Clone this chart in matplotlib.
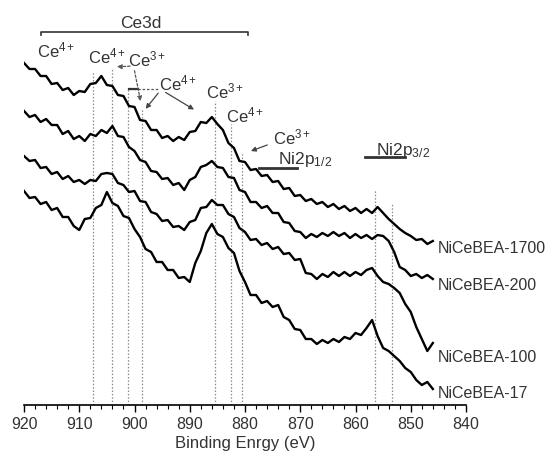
import matplotlib
matplotlib.use('Agg')
import matplotlib.pyplot as plt

plt.rcParams['font.family'] = ['Liberation Sans', 'DejaVu Sans']
plt.rcParams['mathtext.fontset'] = 'custom'
plt.rcParams['mathtext.rm'] = 'Liberation Sans'
plt.rcParams['mathtext.it'] = 'Liberation Sans:italic'

# binding energy grid (eV), 920 -> 846
binding_energy = list(range(920, 845, -1))

# intensities (a.u., offset stacked)
nicebea_1700 = [343, 337, 337, 330, 330, 322, 323, 316, 318, 311,
                315, 314, 322, 323, 330, 321, 320, 311, 310, 300,
                299, 286, 285, 276, 276, 268, 270, 265, 269, 266,
                274, 275, 284, 283, 289, 282, 276, 263, 258, 245,
                244, 236, 237, 230, 231, 224, 225, 217, 218, 210,
                211, 205, 207, 202, 204, 199, 202, 197, 200, 195,
                198, 193, 197, 193, 199, 193, 187, 182, 177, 173,
                170, 166, 167, 162, 165]
nicebea_200 = [295, 289, 291, 284, 287, 281, 281, 272, 275, 267,
               270, 265, 272, 270, 276, 273, 280, 270, 269, 259,
               255, 246, 244, 235, 234, 227, 228, 221, 223, 216,
               226, 229, 239, 241, 245, 239, 238, 229, 228, 216,
               214, 204, 204, 198, 200, 193, 193, 184, 183, 175,
               174, 168, 172, 169, 173, 170, 174, 170, 173, 168,
               172, 168, 171, 167, 171, 170, 165, 154, 139, 136,
               130, 132, 128, 131, 127]
nicebea_100 = [250, 245, 246, 238, 239, 232, 234, 227, 230, 224,
               226, 222, 226, 225, 232, 233, 232, 223, 221, 214,
               215, 205, 204, 194, 192, 185, 186, 179, 180, 176,
               184, 186, 198, 199, 206, 201, 201, 192, 189, 178,
               174, 166, 167, 161, 163, 157, 159, 152, 153, 146,
               147, 133, 132, 127, 132, 129, 134, 130, 134, 130,
               134, 131, 136, 138, 130, 124, 122, 118, 113, 102,
               94, 79, 67, 55, 63]
nicebea_17 = [215, 208, 209, 202, 204, 196, 198, 189, 189, 180,
              176, 187, 188, 198, 201, 214, 203, 200, 190, 188,
              177, 169, 157, 154, 144, 144, 136, 136, 128, 129,
              124, 143, 155, 173, 182, 172, 169, 158, 153, 135,
              124, 111, 111, 103, 105, 99, 101, 89, 86, 77,
              76, 67, 67, 62, 66, 63, 67, 64, 69, 67,
              73, 71, 78, 86, 70, 58, 55, 50, 45, 38,
              34, 26, 21, 24, 17]

series = [nicebea_1700, nicebea_200, nicebea_100, nicebea_17]
sample_names = ['NiCeBEA-1700', 'NiCeBEA-200', 'NiCeBEA-100', 'NiCeBEA-17']
name_y = [154, 117, 45, 9]

# reference peak positions (eV) and top of their dotted guide lines
peak_positions = [907.5, 904.1, 901.2, 898.6, 885.4, 882.5, 880.5, 856.5, 853.4]
peak_tops = [335, 337, 317, 297, 305, 282, 252, 217, 202]

fig = plt.figure(figsize=(5.55, 4.56), dpi=100)
ax = fig.add_axes([24 / 555, 50 / 456, 442 / 555, 406 / 456])

ax.vlines(peak_positions, 1, peak_tops, colors='#8a8a8a', linestyles=(0, (1.2, 1.5)), lw=0.9)

for vals in series:
    ax.plot(binding_energy, vals, color='black', lw=1.7)

for name, yy in zip(sample_names, name_y):
    ax.text(845.2, yy, name, fontsize=11.5, color='#333333', va='baseline', ha='left')

# Ce3d bracket
ax.plot([917.0, 917.0, 879.5, 879.5], [371, 374, 374, 371], color='#333333', lw=1.2)
ax.text(898.8, 379, 'Ce3d', fontsize=12.5, color='#333333', ha='center', va='baseline')

lbl = dict(fontsize=12, color='#333333', va='baseline', ha='left')
ax.text(917.6, 350, r'$\mathregular{Ce^{4+}}$', **lbl)
ax.text(908.4, 344, r'$\mathregular{Ce^{4+}}$', **lbl)
ax.text(901.1, 341, r'$\mathregular{Ce^{3+}}$', **lbl)
ax.text(895.6, 317, r'$\mathregular{Ce^{4+}}$', **lbl)
ax.text(887.1, 309, r'$\mathregular{Ce^{3+}}$', **lbl)
ax.text(883.5, 285, r'$\mathregular{Ce^{4+}}$', **lbl)
ax.text(874.9, 263, r'$\mathregular{Ce^{3+}}$', **lbl)
ax.text(874.0, 243, r'$\mathregular{Ni2p_{1/2}}$', fontsize=12.5, color='#333333', va='baseline', ha='left')
ax.text(856.2, 252, r'$\mathregular{Ni2p_{3/2}}$', fontsize=12.5, color='#333333', va='baseline', ha='left')

# Ni2p bars
ax.plot([877.5, 870.5], [238, 238], color='#333333', lw=2)
ax.plot([858.3, 851.0], [249, 249], color='#333333', lw=2)

dashed = dict(arrowstyle='-|>', color='#555555', lw=0.9, linestyle=(0, (2, 1.5)), mutation_scale=7)
solid = dict(arrowstyle='-|>', color='#444444', lw=0.9, mutation_scale=7)
ax.annotate('', xy=(903.7, 339), xytext=(900.3, 340), arrowprops=dashed)
ax.annotate('', xy=(898.8, 302), xytext=(900.1, 338), arrowprops=dashed)
ax.plot([901.0, 895.6], [317, 317], color='#555555', lw=0.9, linestyle=(0, (2, 1.5)))
ax.plot([901.0, 899.3], [317, 317], color='#333333', lw=1.6)
ax.annotate('', xy=(898.3, 295), xytext=(895.4, 315), arrowprops=solid)
ax.annotate('', xy=(888.8, 295), xytext=(894.8, 315), arrowprops=solid)
ax.annotate('', xy=(879.4, 254), xytext=(875.5, 262), arrowprops=solid)

ax.set_xlim(920, 840)
ax.set_ylim(1, 407)
ax.set_xticks(range(920, 839, -10))
ax.set_xticks(range(920, 839, -2), minor=True)
ax.tick_params(axis='x', which='major', direction='out', length=5, width=1, labelsize=11.5,
               labelcolor='#333333', pad=3)
ax.tick_params(axis='x', which='minor', direction='out', length=3, width=0.8)
ax.set_yticks([])
for side in ['left', 'right', 'top']:
    ax.spines[side].set_visible(False)
ax.spines['bottom'].set_linewidth(1.2)
ax.set_xlabel('Binding Enrgy (eV)', fontsize=12, color='#333333', labelpad=3)

fig.savefig('out.png', dpi=100)
